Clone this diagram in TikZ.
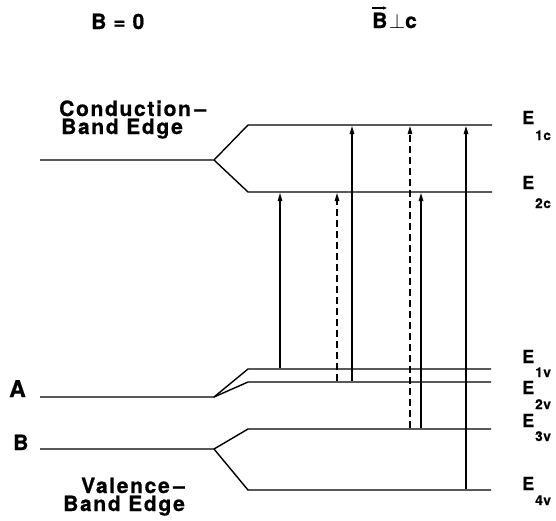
\documentclass[tikz,border=0pt]{standalone}
\usepackage{fontspec}
\setmainfont{TeX Gyre Heros}
\newfontfamily\lblfont{texgyreheros-bold.otf}[LetterSpace=8,FakeBold=0.8]
\newfontfamily\efont{texgyreheros-bold.otf}[FakeBold=0.8]
\newfontfamily\subfont{texgyreheros-bold.otf}[LetterSpace=5,FakeBold=0.8]
\usetikzlibrary{arrows.meta}
\begin{document}
\begin{tikzpicture}[x=1pt,y=-1pt,
  level/.style={line width=1.4pt},
  trans/.style={line width=1.2pt,-{Triangle[length=8pt,width=4.5pt]}},
  dtrans/.style={trans,dash pattern=on 7pt off 4pt},
  big/.style={inner sep=0pt,text height=15pt,text depth=0pt,font=\lblfont\fontsize{21}{18}\selectfont},
  bigd/.style={big,text depth=4pt},
  elab/.style={inner sep=0pt,anchor=base west,font=\efont\fontsize{18}{18}\selectfont},
  esub/.style={inner sep=0pt,anchor=base west,font=\subfont\fontsize{13.5}{13}\selectfont}]
\useasboundingbox (0,0) rectangle (556,520);
% titles
\node[big,anchor=base west] (t0) at (91,29) {B\hspace{7pt}=\hspace{7pt}0};
\node[big,anchor=base west] (tb) at (372,28) {B};
\node[big,anchor=base west,font=\fontsize{21}{24}\selectfont] (tp) at (389,28) {$\perp$};
\node[big,anchor=base west] (tc) at (405,28) {c};
\coordinate (ar0) at (372,8); \coordinate (ar1) at (387,8);
\draw[line width=1.1pt,-{Triangle[length=4pt,width=3pt]}] (ar0) -- (ar1);
% labels
\node[big,anchor=base west] (cb1) at (59,116) {Conduction\,–};
\node[bigd,anchor=base west] (cb2) at (61,134) {Band Edge};
\node[big,anchor=base west] (vb1) at (81,493) {Valence\,–};
\node[bigd,anchor=base west] (vb2) at (63,511) {Band Edge};
\node[big,anchor=base west,text height=17pt,font=\lblfont\fontsize{23}{26}\selectfont] (la) at (9,397) {A};
\node[big,anchor=base west] (lb) at (13,450) {B};
% levels
\coordinate (c0) at (40,160); \coordinate (cs) at (214,160);
\coordinate (c1a) at (248,125); \coordinate (c1b) at (492,125);
\coordinate (c2a) at (248,192); \coordinate (c2b) at (492,192);
\coordinate (a0) at (40,397); \coordinate (as) at (214,397);
\coordinate (v1a) at (248,369); \coordinate (v1b) at (491,369);
\coordinate (v2a) at (248,382); \coordinate (v2b) at (491,382);
\coordinate (b0) at (40,449); \coordinate (bs) at (214,449);
\coordinate (v3a) at (248,429); \coordinate (v3b) at (491,429);
\coordinate (v4a) at (248,490); \coordinate (v4b) at (491,490);
\draw[level] (c0) -- (cs) -- (c1a) -- (c1b);
\draw[level] (cs) -- (c2a) -- (c2b);
\draw[level] (a0) -- (as) -- (v1a) -- (v1b);
\draw[level] (as) -- (v2a) -- (v2b);
\draw[level] (b0) -- (bs) -- (v3a) -- (v3b);
\draw[level] (bs) -- (v4a) -- (v4b);
% E labels
\node[elab] (e1c) at (522,124) {E}; \node[esub] (s1c) at (535,140) {1c};
\node[elab] (e2c) at (522,189) {E}; \node[esub] (s2c) at (535,208) {2c};
\node[elab] (e1v) at (522,363) {E}; \node[esub] (s1v) at (535,377) {1v};
\node[elab] (e2v) at (522,394) {E}; \node[esub] (s2v) at (535,409) {2v};
\node[elab] (e3v) at (522,427) {E}; \node[esub] (s3v) at (535,441) {3v};
\node[elab] (e4v) at (522,490) {E}; \node[esub] (s4v) at (535,505) {4v};
% transitions
\coordinate (p1b) at (280,368); \coordinate (p1t) at (280,193);
\coordinate (p2b) at (337,381); \coordinate (p2t) at (337,193);
\coordinate (p3b) at (352,381); \coordinate (p3t) at (352,126);
\coordinate (p4b) at (410,428); \coordinate (p4t) at (410,126);
\coordinate (p5b) at (421,428); \coordinate (p5t) at (421,193);
\coordinate (p6b) at (466,489); \coordinate (p6t) at (466,126);
\draw[trans] (p1b) -- (p1t);
\draw[dtrans] (p2b) -- (p2t);
\draw[trans] (p3b) -- (p3t);
\draw[dtrans] (p4b) -- (p4t);
\draw[trans] (p5b) -- (p5t);
\draw[trans] (p6b) -- (p6t);
\end{tikzpicture}
\end{document}
